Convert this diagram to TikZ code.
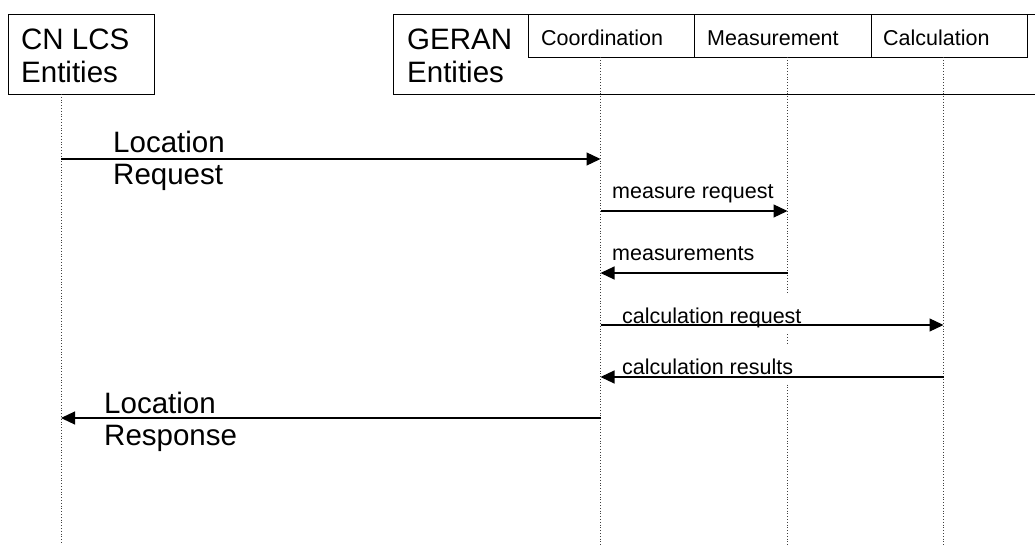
\documentclass[tikz,border=0pt]{standalone}
\usepackage{fontspec}
\setmainfont{Liberation Sans}
\usetikzlibrary{arrows.meta}
\begin{document}
\begin{tikzpicture}[x=1pt,y=-1pt,
  box/.style={draw,line width=1pt,inner sep=0pt,anchor=north west},
  life/.style={dotted,line width=0.8pt,black!75},
  msg/.style={-{Triangle[length=14pt,width=13pt]},line width=1.2pt},
  big/.style={font=\fontsize{29.5}{33}\selectfont,inner sep=0pt,anchor=base west},
  small/.style={font=\fontsize{21.5}{25}\selectfont,inner sep=0pt,anchor=base west},
  cover/.style={small,fill=white,text height=29.5pt,text depth=9pt}]
\useasboundingbox (0,0) rectangle (1035,545);

% boxes
\node[box,minimum width=146pt,minimum height=80pt] (cnbox) at (8,14) {};
\node[box,minimum width=660pt,minimum height=80pt] (gbox) at (393,14) {};
\node[box,minimum width=166pt,minimum height=43pt] (coordbox) at (528,14) {};
\node[box,minimum width=177pt,minimum height=43pt] (measbox) at (694,14) {};
\node[box,minimum width=156pt,minimum height=43pt] (calcbox) at (871,14) {};

\node[big] (cnt1) at (21,50) {CN LCS};
\node[big] (cnt2) at (21,83) {Entities};
\node[big] (gt1) at (407,50) {GERAN};
\node[big] (gt2) at (407,83) {Entities};
\node[small] (coordt) at (541,46) {Coordination};
\node[small] (meast) at (707,46) {Measurement};
\node[small] (calct) at (883,46) {Calculation};

% lifelines
\coordinate (cnTop) at (61,94);   \coordinate (cnBot) at (61,545);
\coordinate (coTop) at (600.5,57); \coordinate (coBot) at (600.5,545);
\coordinate (meTop) at (787.5,57); \coordinate (meBot) at (787.5,545);
\coordinate (caTop) at (943.5,57); \coordinate (caBot) at (943.5,545);
\draw[life] (cnTop) -- (cnBot);
\draw[life] (coTop) -- (coBot);
\draw[life] (meTop) -- (meBot);
\draw[life] (caTop) -- (caBot);

% message points
\coordinate (cn1) at (61,159);    \coordinate (co1) at (600.5,159);
\coordinate (co2) at (600.5,211); \coordinate (me2) at (787.5,211);
\coordinate (me3) at (787.5,273); \coordinate (co3) at (600.5,273);
\coordinate (co4) at (600.5,325); \coordinate (ca4) at (943.5,325);
\coordinate (ca5) at (943.5,377); \coordinate (co5) at (600.5,377);
\coordinate (co6) at (600.5,418); \coordinate (cn6) at (61,418);

% labels that mask lifelines
\node[cover] (l4) at (622,323) {calculation request};
\node[cover] (l5) at (622,374) {calculation results};

% messages
\draw[msg] (cn1) -- (co1);
\draw[msg] (co2) -- (me2);
\draw[msg] (me3) -- (co3);
\draw[msg] (co4) -- (ca4);
\draw[msg] (ca5) -- (co5);
\draw[msg] (co6) -- (cn6);

% other labels
\node[big] (l1a) at (113,153) {Location};
\node[big] (l1b) at (113,185) {Request};
\node[small] (l2) at (612,199) {measure request};
\node[small] (l3) at (612,260) {measurements};
\node[big] (l6a) at (104,413) {Location};
\node[big] (l6b) at (104,445) {Response};
\end{tikzpicture}
\end{document}
